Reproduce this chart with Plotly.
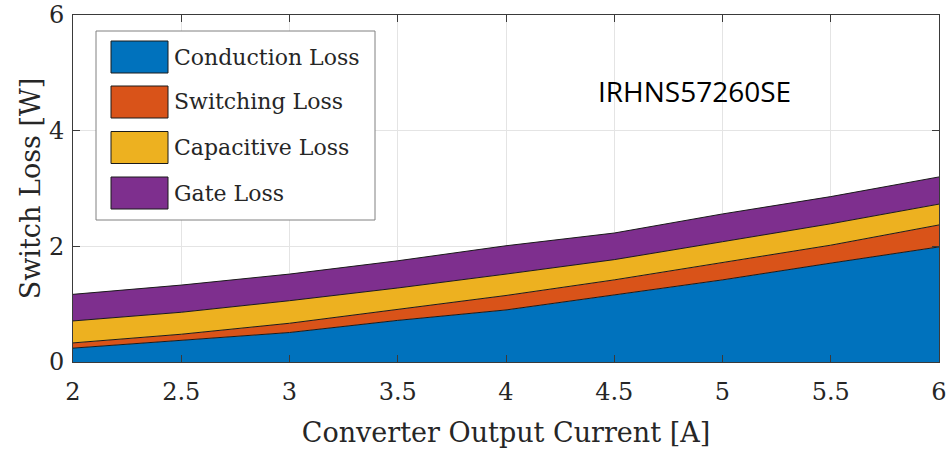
import plotly.graph_objects as go

# Output current sweep [A]
current = [2.0, 2.5, 3.0, 3.5, 4.0, 4.5, 5.0, 5.5, 6.0]

# Loss components per switch [W]
conduction_loss = [0.24, 0.37, 0.51, 0.72, 0.90, 1.16, 1.42, 1.71, 1.99]
switching_loss = [0.09, 0.11, 0.16, 0.19, 0.25, 0.26, 0.30, 0.31, 0.38]
capacitive_loss = [0.38, 0.38, 0.39, 0.37, 0.37, 0.35, 0.36, 0.37, 0.36]
gate_loss = [0.46, 0.47, 0.46, 0.47, 0.49, 0.46, 0.48, 0.47, 0.47]

series_names = ["Conduction Loss", "Switching Loss", "Capacitive Loss", "Gate Loss"]
series_values = [conduction_loss, switching_loss, capacitive_loss, gate_loss]
series_colors = ["#0072BD", "#D95319", "#EDB120", "#7E2F8E"]

x_ticks = [2, 2.5, 3, 3.5, 4, 4.5, 5, 5.5, 6]
x_ticklabels = ["2", "2.5", "3", "3.5", "4", "4.5", "5", "5.5", "6"]
y_ticks = [0, 2, 4, 6]

W, H = 951, 451
ML, MR, MT, MB = 73, 12, 15, 89
SERIF = "DejaVu Serif"
AXIS_COLOR = "#3a3a3a"
TEXT_COLOR = "#262626"


def px_x(px):
    return (px - ML) / (W - ML - MR)


def px_y(py):
    return (H - MB - py) / (H - MT - MB)


fig = go.Figure()
for name, vals, col in zip(series_names, series_values, series_colors):
    fig.add_trace(go.Scatter(
        x=current, y=vals, name=name, mode="lines",
        stackgroup="loss", fillcolor=col,
        line=dict(color="#1a1a1a", width=1),
        showlegend=False,
    ))

# Boxed legend with large patch swatches
shapes = [dict(type="rect", xref="paper", yref="paper",
               x0=px_x(96), x1=px_x(375), y0=px_y(220), y1=px_y(31),
               fillcolor="white", line=dict(color="#808080", width=1), layer="above")]
annotations = []
row_centers = [57, 102, 147.5, 193]
for name, col, cy in zip(series_names, series_colors, row_centers):
    shapes.append(dict(type="rect", xref="paper", yref="paper",
                       x0=px_x(111), x1=px_x(168), y0=px_y(cy + 16), y1=px_y(cy - 16),
                       fillcolor=col, line=dict(color="#1a1a1a", width=1), layer="above"))
    annotations.append(dict(xref="paper", yref="paper", x=px_x(172), y=px_y(cy),
                            text=name, showarrow=False, xanchor="left", yanchor="middle",
                            font=dict(family=SERIF, size=22, color=TEXT_COLOR)))

annotations.append(dict(xref="paper", yref="paper", x=px_x(694), y=px_y(91),
                        text="IRHNS57260SE", showarrow=False,
                        xanchor="center", yanchor="middle",
                        font=dict(family="Open Sans", size=28, color="black")))

fig.update_layout(
    width=W, height=H,
    margin=dict(l=ML, r=MR, t=MT, b=MB),
    paper_bgcolor="white", plot_bgcolor="white",
    shapes=shapes, annotations=annotations,
    font=dict(family=SERIF, color=TEXT_COLOR),
)
fig.update_xaxes(
    range=[2, 6], tickvals=x_ticks, ticktext=x_ticklabels,
    ticks="inside", ticklen=7, tickcolor=AXIS_COLOR,
    showline=True, linecolor=AXIS_COLOR, linewidth=1, mirror="ticks",
    showgrid=True, gridcolor="#e4e4e4", zeroline=False, automargin=False,
    ticklabelstandoff=8,
    tickfont=dict(family=SERIF, size=24, color=TEXT_COLOR),
    title=dict(text="Converter Output Current [A]", standoff=18,
               font=dict(family=SERIF, size=27, color=TEXT_COLOR)),
)
fig.update_yaxes(
    range=[0, 6], tickvals=y_ticks,
    ticks="inside", ticklen=7, tickcolor=AXIS_COLOR,
    showline=True, linecolor=AXIS_COLOR, linewidth=1, mirror="ticks",
    showgrid=True, gridcolor="#e4e4e4", zeroline=False, automargin=False,
    ticklabelstandoff=3,
    tickfont=dict(family=SERIF, size=24, color=TEXT_COLOR),
    title=dict(text="Switch Loss [W]", standoff=0,
               font=dict(family=SERIF, size=27, color=TEXT_COLOR)),
)

fig.write_html("out.html")
